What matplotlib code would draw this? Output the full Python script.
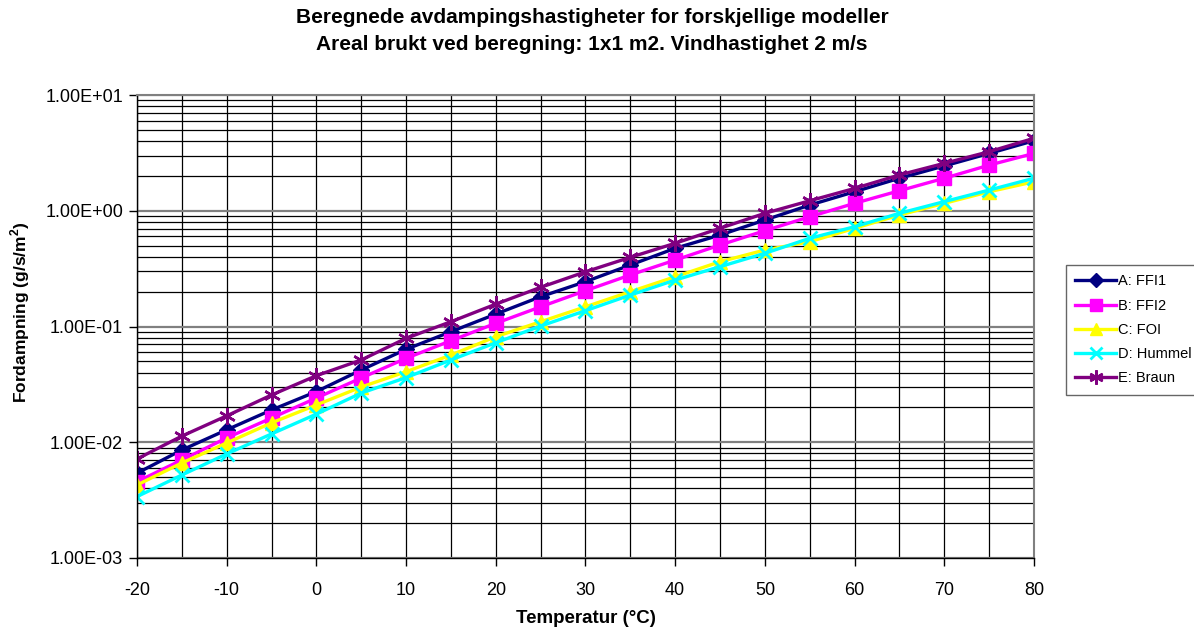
import matplotlib
matplotlib.use('Agg')
import matplotlib.pyplot as plt
import matplotlib.ticker as mticker
from matplotlib import rcParams
import numpy as np

rcParams.update({'font.family': 'Liberation Sans'})
rcParams.update({'axes.unicode_minus': False})
rcParams.update({'mathtext.fontset': 'custom'})
rcParams.update({'mathtext.bf': 'Liberation Sans:bold'})
rcParams.update({'mathtext.rm': 'Liberation Sans'})

# Temperature (deg C)
temp = [-20, -15, -10, -5, 0, 5, 10, 15, 20, 25, 30, 35, 40, 45, 50,
        55, 60, 65, 70, 75, 80]

# Evaporation rates (g/s/m2)
ffi1 = [0.0054, 0.00857, 0.0128, 0.0190, 0.0274, 0.0421, 0.0635, 0.0902,
        0.128, 0.181, 0.244, 0.340, 0.474, 0.617, 0.832, 1.12, 1.46, 1.91,
        2.44, 3.13, 4.03]
ffi2 = [0.00456, 0.00703, 0.0109, 0.0162, 0.0241, 0.0359, 0.0531, 0.0754,
        0.1066, 0.148, 0.204, 0.279, 0.375, 0.506, 0.673, 0.888, 1.16, 1.49,
        1.91, 2.48, 3.13]
foi = [0.00427, 0.00662, 0.00986, 0.0147, 0.0210, 0.0300, 0.0407, 0.0567,
       0.0816, 0.110, 0.148, 0.200, 0.269, 0.363, 0.458, 0.540, 0.706, 0.919,
       1.16, 1.46, 1.78]
hummel = [0.00339, 0.00521, 0.00792, 0.0118, 0.0175, 0.0266, 0.0362, 0.0514,
          0.0724, 0.101, 0.137, 0.187, 0.252, 0.329, 0.429, 0.578, 0.728,
          0.951, 1.20, 1.51, 1.91]
braun = [0.00717, 0.0113, 0.0169, 0.0256, 0.0376, 0.0514, 0.0791, 0.110,
         0.156, 0.218, 0.297, 0.396, 0.524, 0.706, 0.951, 1.22, 1.56, 2.04,
         2.57, 3.24, 4.23]

fig = plt.figure(figsize=(11.94, 6.31), dpi=100)
ax = fig.add_axes([0.1147, 0.1157, 0.7513, 0.7337])

ax.set_yscale('log')
ax.set_ylim(1e-3, 1e1)
ax.set_xlim(-20, 80)

# Gridlines
ax.yaxis.set_minor_locator(mticker.LogLocator(base=10, subs=np.arange(2, 10)))
ax.yaxis.set_minor_formatter(mticker.NullFormatter())
ax.xaxis.set_major_locator(mticker.MultipleLocator(10))
ax.xaxis.set_minor_locator(mticker.MultipleLocator(5))
ax.grid(which='major', axis='y', color='#808080', linewidth=1.6)
ax.grid(which='minor', axis='y', color='black', linewidth=0.9)
ax.grid(which='both', axis='x', color='black', linewidth=0.9)
ax.set_axisbelow(True)

ax.yaxis.set_major_formatter(
    mticker.FuncFormatter(lambda v, p: '{:.2E}'.format(v)))
ax.tick_params(which='major', direction='out', length=6, labelsize=13,
               width=1)
ax.tick_params(which='minor', length=0)
ax.tick_params(axis='x', pad=11)
ax.tick_params(axis='y', pad=4)

lw = 2.4
ax.plot(temp, ffi1, color='#000080', marker='D', markersize=8,
        linewidth=lw, label='A: FFI1')
ax.plot(temp, ffi2, color='#FF00FF', marker='s', markersize=10,
        linewidth=lw, label='B: FFI2')
ax.plot(temp, foi, color='#FFFF00', marker='^', markersize=10,
        linewidth=lw, label='C: FOI')
ax.plot(temp, hummel, color='#00FFFF', marker='x', markersize=10,
        markeredgewidth=2, linewidth=lw, label='D: Hummel')
ax.plot(temp, braun, color='#800080', marker=(6, 2, 0), markersize=12,
        markeredgewidth=1.8, linewidth=lw, label='E: Braun')

for s in ax.spines.values():
    s.set_color('#808080')
    s.set_linewidth(1.5)
ax.spines['left'].set_color('black')
ax.spines['bottom'].set_color('black')
ax.spines['left'].set_linewidth(1)
ax.spines['bottom'].set_linewidth(1)

ax.set_xlabel('Temperatur (°C)', fontsize=13.5, fontweight='bold',
              va='center')
ax.xaxis.set_label_coords(0.5, -0.13)
ax.set_ylabel(r'Fordampning (g/s/m$^{\mathbf{2}}$)', fontsize=12.5,
              fontweight='bold', va='center')
ax.yaxis.set_label_coords(-0.130, 0.531)

fig.text(0.496, 0.972,
         'Beregnede avdampingshastigheter for forskjellige modeller',
         ha='center', va='center', fontsize=15, fontweight='bold')
fig.text(0.496, 0.929,
         'Areal brukt ved beregning: 1x1 m2. Vindhastighet 2 m/s',
         ha='center', va='center', fontsize=15, fontweight='bold')

leg = fig.legend(loc='upper left', bbox_to_anchor=(0.8928, 0.58),
                 borderaxespad=0, fontsize=10.5, frameon=True,
                 fancybox=False, edgecolor='#404040', handlelength=2.8,
                 borderpad=0.65, labelspacing=0.7, handletextpad=0.1,
                 markerscale=0.85)
leg.get_frame().set_linewidth(1)

plt.savefig('out.png', dpi=100, facecolor='w')
